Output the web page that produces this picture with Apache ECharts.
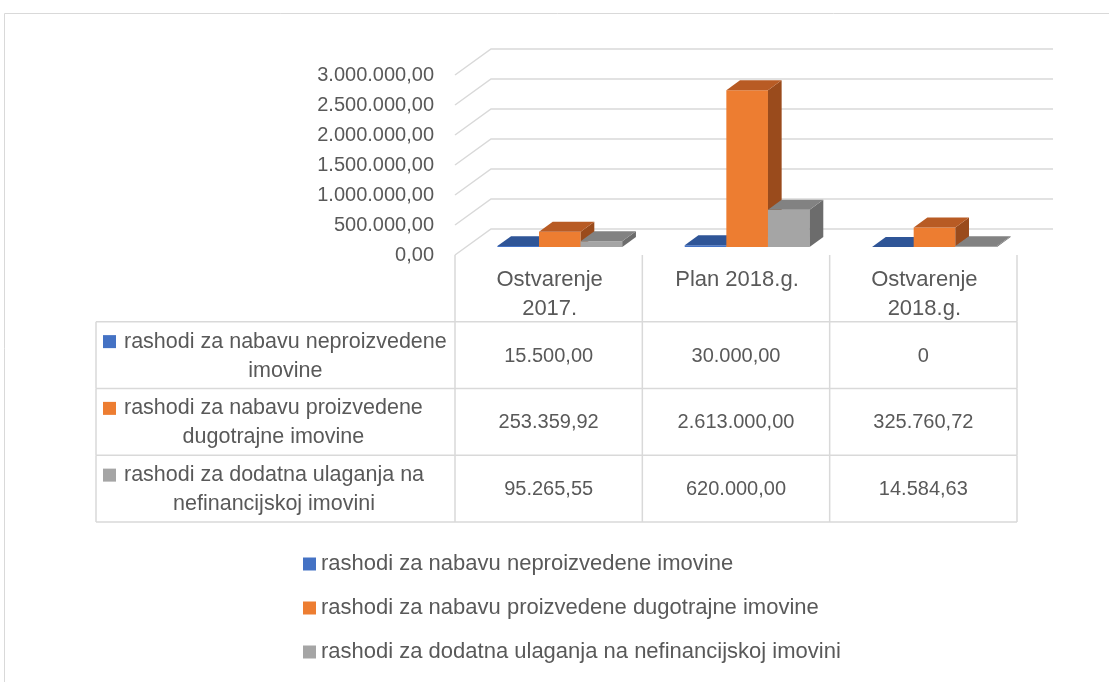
<!DOCTYPE html>
<html><head><meta charset="utf-8">
<script src="https://cdn.jsdelivr.net/npm/echarts@6/dist/echarts.min.js"></script>
<style>html,body{margin:0;padding:0;background:#fff}#c{width:1109px;height:682px}</style>
</head><body><div id="c"></div>
<script>
// ---------- data ----------
const categories = ['Ostvarenje 2017.', 'Plan 2018.g.', 'Ostvarenje 2018.g.'];
const seriesNames = [
  'rashodi za nabavu neproizvedene imovine',
  'rashodi za nabavu proizvedene dugotrajne imovine',
  'rashodi za dodatna ulaganja na nefinancijskoj imovini'
];
const neproizvedene = [15500, 30000, 0];
const proizvedene = [253359.92, 2613000, 325760.72];
const dodatna = [95265.55, 620000, 14584.63];
const yTicks = [0, 500000, 1000000, 1500000, 2000000, 2500000, 3000000];

// ---------- style / layout ----------
const FONT = 'Liberation Sans';
const FS_TEXT = 22;   // wording
const FS_ROW = 21.5;  // table row headers
const FS_NUM = 20;    // numbers
const TXT = '#595959';
const LINE = '#d9d9d9';
const FACES = [
  {front:'#4472C4', top:'#2F5597', side:'#284B86'},
  {front:'#ED7D31', top:'#B85B24', side:'#9A4B1C'},
  {front:'#A5A5A5', top:'#828282', side:'#6C6C6C'}
];
const DEPTH = [36, -26];     // offset of back wall from front plane
const BAR_D0 = 0.31, BAR_D1 = 0.69;
const GAP = 1.5;             // gap width relative to bar width
const TABLE_LEFT = 96;

const seriesValues = [neproizvedene, proizvedene, dodatna];

const measureCtx = document.createElement('canvas').getContext('2d');
function wrapLines(text, font, maxW) {
  measureCtx.font = font;
  const words = text.split(' ');
  const lines = [];
  let cur = '';
  words.forEach(w => {
    const t = cur ? cur + ' ' + w : w;
    if (cur && measureCtx.measureText(t).width > maxW) { lines.push(cur); cur = w; }
    else cur = t;
  });
  if (cur) lines.push(cur);
  const width = Math.max.apply(null, lines.map(l => measureCtx.measureText(l).width));
  return {text: lines.join('\n'), width};
}

function fmt(v, zeroPlain) {
  if (v === 0 && zeroPlain) return '0';
  const s = v.toFixed(2).split('.');
  return s[0].replace(/\B(?=(\d{3})+(?!\d))/g, '.') + ',' + s[1];
}

function barRender(sIdx) {
  return function (params, api) {
    const c = api.value(0), v = api.value(1);
    const band = api.size([1, 0])[0];
    const w = band / (3 + GAP);
    const base = api.coord([c, 0]);
    const top = api.coord([c, v]);
    const ox = DEPTH[0] * BAR_D0, oy = DEPTH[1] * BAR_D0;
    const dx = DEPTH[0] * (BAR_D1 - BAR_D0), dy = DEPTH[1] * (BAR_D1 - BAR_D0);
    const x0 = base[0] - 1.5 * w + sIdx * w + ox, x1 = x0 + w;
    const yb = base[1] + oy, yt = top[1] + oy;
    const f = FACES[sIdx];
    return {type: 'group', children: [
      {type: 'polygon', shape: {points: [[x0, yb], [x1, yb], [x1, yt], [x0, yt]]}, style: {fill: f.front}},
      {type: 'polygon', shape: {points: [[x1, yb], [x1 + dx, yb + dy], [x1 + dx, yt + dy], [x1, yt]]}, style: {fill: f.side}},
      {type: 'polygon', shape: {points: [[x0, yt], [x1, yt], [x1 + dx, yt + dy], [x0 + dx, yt + dy]]}, style: {fill: f.top}}
    ]};
  };
}

function wallRender(params, api) {
  const v = api.value(1);
  const band = api.size([1, 0])[0];
  const pl = api.coord([0, v]);
  const pr = api.coord([categories.length - 1, v]);
  const xl = pl[0] - band / 2, xr = pr[0] + band / 2 + DEPTH[0];
  const y = pl[1];
  return {type: 'polyline', shape: {points: [[xl, y], [xl + DEPTH[0], y + DEPTH[1]], [xr, y + DEPTH[1]]]},
    style: {stroke: LINE, lineWidth: 1.5, fill: null}};
}

function tableRender(params, api) {
  const r = api.value(1);
  const band = api.size([1, 0])[0];
  const rowH = api.size([0, 1])[1];
  const p0 = api.coord([0, r]);
  const yTop = p0[1] - rowH / 2, yBot = p0[1] + rowH / 2, yMid = p0[1] + 1;
  const xs = categories.map((_, c) => api.coord([c, r])[0]);
  const colLeft = xs[0] - band / 2, right = xs[xs.length - 1] + band / 2;
  const fontT = FS_TEXT + 'px "' + FONT + '"';
  const fontR = FS_ROW + 'px "' + FONT + '"';
  const fontN = FS_NUM + 'px "' + FONT + '"';
  const ch = [];
  const line = (x1, y1, x2, y2) => ({type: 'line', shape: {x1, y1, x2, y2}, style: {stroke: LINE, lineWidth: 1.5}});
  for (let k = 0; k <= categories.length; k++) ch.push(line(colLeft + k * band, yTop, colLeft + k * band, yBot));
  if (r === 0) {
    categories.forEach((name, c) => ch.push({type: 'text', style: {text: wrapLines(name, fontT, band - 30).text,
      x: xs[c] + 1, y: yTop + 10, align: 'center', verticalAlign: 'top', lineHeight: 29, fill: TXT, font: fontT}}));
  } else {
    const s = r - 1;
    ch.push(line(TABLE_LEFT, yTop, TABLE_LEFT, yBot));
    if (r === 1) ch.push(line(TABLE_LEFT, yTop, right, yTop));
    ch.push(line(TABLE_LEFT, yBot, right, yBot));
    ch.push({type: 'rect', shape: {x: TABLE_LEFT + 7, y: yMid - 14.5 - 6.5, width: 13, height: 13}, style: {fill: FACES[s].front}});
    const lx0 = TABLE_LEFT + 28, lx1 = colLeft - 6;
    const wr = wrapLines(seriesNames[s], fontR, lx1 - lx0);
    ch.push({type: 'text', style: {text: wr.text, x: lx0 + wr.width / 2, y: yMid,
      align: 'center', verticalAlign: 'middle', lineHeight: 29, fill: TXT, font: fontR}});
    seriesValues[s].forEach((v, c) => ch.push({type: 'text', style: {text: fmt(v, true), x: xs[c], y: yMid,
      align: 'center', verticalAlign: 'middle', fill: TXT, font: fontN}}));
  }
  return {type: 'group', children: ch};
}

const chart = echarts.init(document.getElementById('c'), null, {renderer: 'canvas'});
const barSeries = seriesValues.map((vals, i) => ({
  name: seriesNames[i], type: 'custom', xAxisIndex: 0, yAxisIndex: 0, z: 3,
  itemStyle: {color: FACES[i].front},
  renderItem: barRender(i), encode: {x: 0, y: 1},
  data: vals.map((v, c) => [c, v])
}));

chart.setOption({
  animation: false,
  color: FACES.map(f => f.front),
  textStyle: {fontFamily: FONT},
  graphic: [{type: 'rect', shape: {x: 4.5, y: 13.5, width: 1300, height: 900}, style: {fill: 'none', stroke: LINE, lineWidth: 1}, silent: true, z: -1}],
  grid: [
    {left: 455, top: 75, width: 562, height: 180, containLabel: false, outerBoundsMode: 'none'},
    {left: 455, top: 255, width: 562, height: 267, containLabel: false, outerBoundsMode: 'none'}
  ],
  xAxis: [
    {gridIndex: 0, type: 'category', data: categories, axisLine: {show: false}, axisTick: {show: false}, axisLabel: {show: false}, splitLine: {show: false}},
    {gridIndex: 1, type: 'category', data: categories, axisLine: {show: false}, axisTick: {show: false}, axisLabel: {show: false}, splitLine: {show: false}}
  ],
  yAxis: [
    {gridIndex: 0, type: 'value', min: 0, max: 3000000, interval: 500000,
      axisLine: {show: false}, axisTick: {show: false}, splitLine: {show: false},
      axisLabel: {margin: 21, color: TXT, fontSize: FS_NUM, fontFamily: FONT, formatter: v => fmt(v, false)}},
    {gridIndex: 1, type: 'category', inverse: true, data: [''].concat(seriesNames),
      axisLine: {show: false}, axisTick: {show: false}, axisLabel: {show: false}, splitLine: {show: false}}
  ],
  legend: {
    data: seriesNames, orient: 'vertical', left: 298, top: 547, itemGap: 20,
    itemWidth: 13, itemHeight: 13, icon: 'rect', selectedMode: false,
    textStyle: {color: TXT, fontSize: FS_TEXT, fontFamily: FONT, lineHeight: 24}
  },
  series: [
    {name: 'wall', type: 'custom', xAxisIndex: 0, yAxisIndex: 0, z: 1, silent: true,
      renderItem: wallRender, encode: {x: 0, y: 1}, data: yTicks.map(v => [0, v])}
  ].concat(barSeries).concat([
    {name: 'table', type: 'custom', xAxisIndex: 1, yAxisIndex: 1, z: 2, silent: true,
      renderItem: tableRender, encode: {x: 0, y: 1}, data: [0, 1, 2, 3].map(r => [0, r])}
  ])
});
</script>
</body></html>
